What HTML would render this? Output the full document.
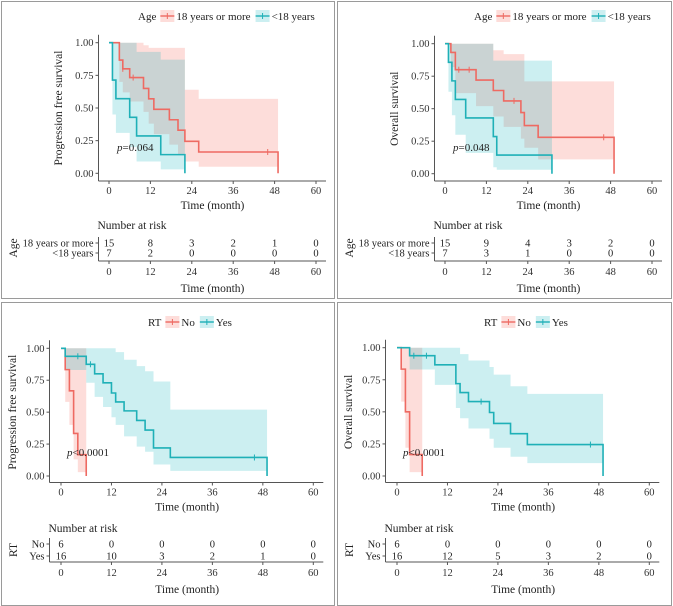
<!DOCTYPE html>
<html><head><meta charset="utf-8">
<style>
body{margin:0;background:#fff;}
svg{display:block;font-family:"Liberation Serif",serif;}
</style></head>
<body>
<svg id="fig" width="673" height="606" viewBox="0 0 673 606" xmlns="http://www.w3.org/2000/svg"></svg>
<script>
// ---------- DATA ----------
const tickLabelsX = [0, 12, 24, 36, 48, 60];
const tickLabelsY = [0, 0.25, 0.5, 0.75, 1];

// Panel A: PFS by age
const aRedTimes = [0,3,4,6,10,11.5,13,17.5,20,22,26,49];
const aRedSurv  = [1,.867,.8,.733,.65,.57,.49,.41,.33,.245,.163,0];
const aRedUp    = [1,1,1,1,.98,.96,.96,.96,.96,.64,.57,.57];
const aRedLo    = [1,.7,.62,.55,.47,.38,.3,.22,.14,.09,.05,.05];
const aRedCens  = [4,7,46];
const aBlueTimes= [0,1,2,6,8,15,22];
const aBlueSurv = [1,.714,.571,.429,.286,.143,0];
const aBlueUp   = [1,1,1,1,.93,.87,.87];
const aBlueLo   = [1,.45,.31,.2,.09,.03,.03];
const aBlueCens = [];
const aRisk1 = [15,8,3,2,1,0];
const aRisk2 = [7,2,0,0,0,0];

// Panel B: OS by age
const bRedTimes = [0,1.7,3,9,14,17,22,23,27,49];
const bRedSurv  = [1,.933,.8,.72,.64,.56,.47,.37,.28,0];
const bRedUp    = [1,1,1,1,.95,.92,.92,.71,.71,.71];
const bRedLo    = [1,.82,.62,.52,.44,.36,.27,.2,.11,.11];
const bRedCens  = [4,7,20,46];
const bBlueTimes= [0,1,2,3,6,14,15,31];
const bBlueSurv = [1,.857,.714,.571,.429,.286,.143,0];
const bBlueUp   = [1,1,1,1,1,.87,.87,.87];
const bBlueLo   = [1,.63,.45,.3,.16,.05,.03,.03];
const bBlueCens = [];
const bRisk1 = [15,9,4,3,2,0];
const bRisk2 = [7,3,1,0,0,0];

// Panel C: PFS by RT
const cRedTimes = [0,1,2,3,4,6];
const cRedSurv  = [1,.833,.667,.333,.167,0];
const cRedUp    = [1,1,1,1,1,1];
const cRedLo    = [1,.58,.4,.13,.03,.03];
const cRedCens  = [];
const cBlueTimes= [0,1,6,8,10,12,13,15,18,20,22,26,49];
const cBlueSurv = [1,.9375,.875,.8,.73,.65,.58,.51,.435,.36,.22,.145,0];
const cBlueUp   = [1,1,1,1,1,1,.97,.91,.86,.82,.74,.52,.52];
const cBlueLo   = [1,.83,.73,.62,.54,.46,.4,.31,.23,.19,.09,.04,.04];
const cBlueCens = [4,7,46];
const cRisk1 = [6,0,0,0,0,0];
const cRisk2 = [16,10,3,2,1,0];

// Panel D: OS by RT
const dRedTimes = [0,1,2,3,6];
const dRedSurv  = [1,.833,.5,.167,0];
const dRedUp    = [1,1,1,1,1];
const dRedLo    = [1,.58,.22,.03,.03];
const dRedCens  = [];
const dBlueTimes= [0,3,9,14,15,17,22,23,27,31,49];
const dBlueSurv = [1,.9375,.867,.72,.65,.58,.495,.41,.33,.245,0];
const dBlueUp   = [1,1,1,1,.95,.9,.85,.79,.7,.64,.64];
const dBlueLo   = [1,.83,.71,.53,.45,.37,.29,.22,.15,.1,.1];
const dBlueCens = [4,7,20,46];
const dRisk1 = [6,0,0,0,0,0];
const dRisk2 = [16,12,5,3,2,0];

// ---------- LAYOUT ----------
const RED = "#ee6a62", BLUE = "#1fb0b7";
const RED_F = "rgba(248,118,109,0.25)", BLUE_F = "rgba(0,176,184,0.2)";
const panels = [
 {name:"pfs-age", bx:1,by:1,bw:333,bh:297, x0:109,x60:316,y1:42.7,y0:173.3, yax:98.5, xax:181, ylab:"Progression free survival", ylx:62,
  legY:16, legTitle:"Age", leg1:"18 years or more", leg2:"<18 years", legX:138, p:"=0.064", px:117, py:151,
  riskTitleY:225, r1y:243, r2y:253, raxY:261, rowLab:"Age", rl1:"18 years or more", rl2:"<18 years",
  red:[aRedTimes,aRedSurv,aRedUp,aRedLo,aRedCens], blue:[aBlueTimes,aBlueSurv,aBlueUp,aBlueLo,aBlueCens], risk:[aRisk1,aRisk2]},
 {name:"os-age", bx:337,by:1,bw:334,bh:297, x0:445,x60:652,y1:43.7,y0:173.7, yax:434.5, xax:181, ylab:"Overall survival", ylx:398,
  legY:16, legTitle:"Age", leg1:"18 years or more", leg2:"<18 years", legX:474, p:"=0.048", px:453, py:151,
  riskTitleY:225, r1y:243, r2y:253, raxY:261, rowLab:"Age", rl1:"18 years or more", rl2:"<18 years",
  red:[bRedTimes,bRedSurv,bRedUp,bRedLo,bRedCens], blue:[bBlueTimes,bBlueSurv,bBlueUp,bBlueLo,bBlueCens], risk:[bRisk1,bRisk2]},
 {name:"pfs-rt", bx:1,by:302,bw:333,bh:303, x0:61,x60:313.3,y1:348.3,y0:476, yax:49.5, xax:482.5, ylab:"Progression free survival", ylx:16,
  legY:322, legTitle:"RT", leg1:"No", leg2:"Yes", legX:148, p:"<0.0001", px:67, py:456,
  riskTitleY:528, r1y:544, r2y:556, raxY:562, rowLab:"RT", rl1:"No", rl2:"Yes",
  red:[cRedTimes,cRedSurv,cRedUp,cRedLo,cRedCens], blue:[cBlueTimes,cBlueSurv,cBlueUp,cBlueLo,cBlueCens], risk:[cRisk1,cRisk2]},
 {name:"os-rt", bx:337,by:302,bw:334,bh:303, x0:397,x60:649.3,y1:347.7,y0:476, yax:385.5, xax:482.5, ylab:"Overall survival", ylx:352,
  legY:322, legTitle:"RT", leg1:"No", leg2:"Yes", legX:484, p:"<0.0001", px:403, py:456,
  riskTitleY:528, r1y:544, r2y:556, raxY:562, rowLab:"RT", rl1:"No", rl2:"Yes",
  red:[dRedTimes,dRedSurv,dRedUp,dRedLo,dRedCens], blue:[dBlueTimes,dBlueSurv,dBlueUp,dBlueLo,dBlueCens], risk:[dRisk1,dRisk2]}
];

const NS = "http://www.w3.org/2000/svg";
const svg = document.getElementById("fig");
function mk(tag, attrs, parent, text){
  const e = document.createElementNS(NS, tag);
  for (const k in attrs) e.setAttribute(k, attrs[k]);
  if (text !== undefined) e.textContent = text;
  (parent||svg).appendChild(e);
  return e;
}

panels.forEach(P => {
  const g = mk("g", {});
  
  
  const sx = t => P.x0 + (P.x60 - P.x0) * t / 60;
  const sy = s => P.y0 - (P.y0 - P.y1) * s;
  const border = mk("rect", {x:P.bx+0.5,y:P.by+0.5,width:P.bw,height:P.bh,fill:"#fff",stroke:"#9a9a9a","stroke-width":1}, g);
  
  

  // legend
  const lg = mk("g", {}, g);
  
  
  let lx = P.legX;
  const t0 = mk("text", {x:lx, y:P.legY+4, "font-size":11, fill:"#222"}, lg, P.legTitle);
  lx += t0.getComputedTextLength() + 4;
  [[P.leg1, RED, RED_F],[P.leg2, BLUE, BLUE_F]].forEach((L,i) => {
    const e = mk("g", {}, lg);
    
    
    mk("rect", {x:lx, y:P.legY-6, width:14, height:12, fill:L[2]}, e);
    mk("line", {x1:lx, y1:P.legY, x2:lx+14, y2:P.legY, stroke:L[1], "stroke-width":1.4}, e);
    mk("line", {x1:lx+7, y1:P.legY-3, x2:lx+7, y2:P.legY+3, stroke:L[1], "stroke-width":1}, e);
    const tt = mk("text", {x:lx+16, y:P.legY+4, "font-size":11, fill:"#222"}, e, L[0]);
    lx += 16 + tt.getComputedTextLength() + 5;
  });

  // axes
  const ax = mk("g", {}, g);
  
  
  mk("line", {x1:P.yax, y1:P.y1-8, x2:P.yax, y2:P.xax, stroke:"#555"}, ax);
  mk("line", {x1:P.yax, y1:P.xax, x2:P.x60+10, y2:P.xax, stroke:"#555"}, ax);
  tickLabelsY.forEach(v => {
    mk("line", {x1:P.yax-3, y1:sy(v), x2:P.yax, y2:sy(v), stroke:"#555"}, ax);
    mk("text", {x:P.yax-5, y:sy(v)+3.5, "font-size":10.5, "text-anchor":"end", fill:"#333"}, ax, v.toFixed(2));
  });
  tickLabelsX.forEach(v => {
    mk("line", {x1:sx(v), y1:P.xax, x2:sx(v), y2:P.xax+3, stroke:"#555"}, ax);
    mk("text", {x:sx(v), y:P.xax+13, "font-size":10.5, "text-anchor":"middle", fill:"#333"}, ax, v);
  });
  const xt = mk("text", {x:(P.x0+P.x60)/2, y:P.xax+28, "font-size":11.5, "text-anchor":"middle", fill:"#222"}, ax, "Time (month)");
  
  
  const ymid = (P.y0+P.y1)/2;
  const yt = mk("text", {x:P.ylx, y:ymid, "font-size":11.5, "text-anchor":"middle", fill:"#222", transform:`rotate(-90 ${P.ylx} ${ymid})`}, ax, P.ylab);
  
  

  // series
  [[P.red, RED, RED_F, "red"],[P.blue, BLUE, BLUE_F, "blue"]].forEach(S => {
    const [T, Sv, Up, Lo, C] = S[0];
    const n = T.length;
    let up = "", lo = "";
    for (let i = 0; i < n-1; i++) {
      up += `${sx(T[i])},${sy(Up[i])} ${sx(T[i+1])},${sy(Up[i])} `;
    }
    for (let i = n-2; i >= 0; i--) {
      lo += `${sx(T[i+1])},${sy(Lo[i])} ${sx(T[i])},${sy(Lo[i])} `;
    }
    const band = mk("polygon", {points:up+lo, fill:S[2], stroke:"none"}, g);
    
    
  });
  [[P.red, RED, "red"],[P.blue, BLUE, "blue"]].forEach(S => {
    const [T, Sv, Up, Lo, C] = S[0];
    let d = `M${sx(T[0])},${sy(Sv[0])}`;
    for (let i = 1; i < T.length; i++) d += ` H${sx(T[i])} V${sy(Sv[i])}`;
    const line = mk("path", {d:d, fill:"none", stroke:S[1], "stroke-width":1.6}, g);
    
    
    C.forEach(ct => {
      let k = 0;
      for (let i = 0; i < T.length; i++) if (T[i] <= ct) k = i;
      const cm = mk("line", {x1:sx(ct), y1:sy(Sv[k])-3, x2:sx(ct), y2:sy(Sv[k])+3, stroke:S[1], "stroke-width":1}, g);
      
      
    });
  });

  // p-value
  const pt = mk("text", {x:P.px, y:P.py, "font-size":11, fill:"#222"}, g);
  
  
  mk("tspan", {"font-style":"italic"}, pt, "p");
  mk("tspan", {}, pt, P.p);

  // risk table
  const rt = mk("g", {}, g);
  
  
  mk("text", {x:P.yax-1, y:P.riskTitleY+4, "font-size":11.5, fill:"#222"}, rt, "Number at risk");
  mk("line", {x1:P.yax, y1:P.r1y-6, x2:P.yax, y2:P.raxY, stroke:"#555"}, rt);
  mk("line", {x1:P.yax, y1:P.raxY, x2:P.x60+10, y2:P.raxY, stroke:"#555"}, rt);
  [[P.rl1, P.r1y],[P.rl2, P.r2y]].forEach(r => {
    mk("line", {x1:P.yax-3, y1:r[1], x2:P.yax, y2:r[1], stroke:"#555"}, rt);
    mk("text", {x:P.yax-5, y:r[1]+3.5, "font-size":10.5, "text-anchor":"end", fill:"#222"}, rt, r[0]);
  });
  const rmid = (P.r1y+P.r2y)/2;
  const rlx = P.bx + 16;
  mk("text", {x:rlx, y:rmid, "font-size":11.5, "text-anchor":"middle", fill:"#222", transform:`rotate(-90 ${rlx} ${rmid})`}, rt, P.rowLab);
  P.risk.forEach((row, ri) => {
    const yy = ri === 0 ? P.r1y : P.r2y;
    row.forEach((v, i) => {
      mk("text", {x:sx(tickLabelsX[i]), y:yy+3.5, "font-size":10.5, "text-anchor":"middle", fill:"#222"}, rt, v);
    });
  });
  tickLabelsX.forEach(v => {
    mk("line", {x1:sx(v), y1:P.raxY, x2:sx(v), y2:P.raxY+3, stroke:"#555"}, rt);
    mk("text", {x:sx(v), y:P.raxY+14, "font-size":10.5, "text-anchor":"middle", fill:"#333"}, rt, v);
  });
  mk("text", {x:(P.x0+P.x60)/2, y:P.raxY+31, "font-size":11.5, "text-anchor":"middle", fill:"#222"}, rt, "Time (month)");
});
</script>
</body></html>
